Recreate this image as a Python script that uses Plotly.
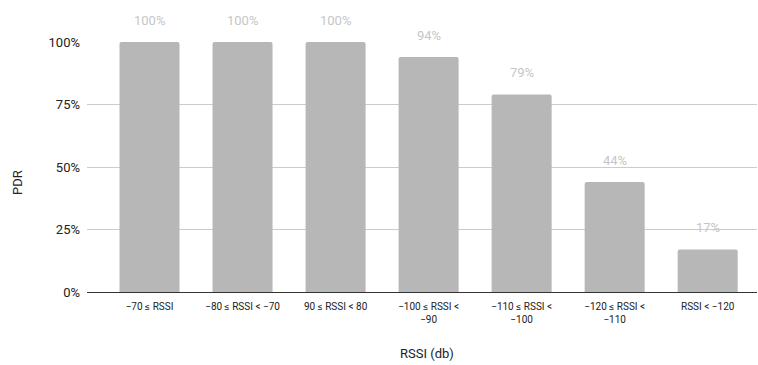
import plotly.graph_objects as go

categories = ["−70 ≤ RSSI", "−80 ≤ RSSI < −70", "90 ≤ RSSI < 80", "−100 ≤ RSSI <<br>−90",
              "−110 ≤ RSSI <<br>−100", "−120 ≤ RSSI <<br>−110", "RSSI < −120"]
pdr = [1.00, 1.00, 1.00, 0.94, 0.79, 0.44, 0.17]
value_labels = ["100%", "100%", "100%", "94%", "79%", "44%", "17%"]
y_ticks = [0, 0.25, 0.5, 0.75, 1.0]
y_tick_labels = ["0%", "25%", "50%", "75%", "100%"]

# plot area in pixels (left, right, top, bottom)
PX_L, PX_R, PX_T, PX_B = 87, 757, 42, 292
W, H = 758, 365


def paper_x(px):
    return (px - PX_L) / (PX_R - PX_L)


def paper_y(py):
    return (PX_B - py) / (PX_B - PX_T)


idx = list(range(len(categories)))

fig = go.Figure()
fig.add_trace(go.Bar(
    x=idx, y=pdr, width=0.645,
    marker=dict(color="#b7b7b7", line=dict(width=0)),
    hoverinfo="skip",
))

for i, v, t in zip(idx, pdr, value_labels):
    fig.add_annotation(x=i, y=v, text=t, showarrow=False, yanchor="middle", yshift=22,
                       font=dict(family="Roboto", size=13, color="#c6c6c6"))

# axis titles
fig.add_annotation(xref="paper", yref="paper", x=paper_x(427), y=paper_y(353),
                   text="RSSI (db)", showarrow=False, xanchor="center", yanchor="middle",
                   font=dict(family="Roboto", size=13, color="#222222"))
fig.add_annotation(xref="paper", yref="paper", x=paper_x(17), y=paper_y(183),
                   text="PDR", showarrow=False, textangle=-90, xanchor="center", yanchor="middle",
                   font=dict(family="Roboto", size=13, color="#222222"))

fig.update_layout(
    width=W, height=H,
    margin=dict(l=PX_L, r=W - PX_R, t=PX_T, b=H - PX_B),
    paper_bgcolor="white", plot_bgcolor="white",
    showlegend=False,
    barcornerradius=2,
    xaxis=dict(
        range=[-0.672, 6.53],
        tickmode="array", tickvals=idx, ticktext=categories,
        tickfont=dict(family="Roboto", size=10, color="#222222"),
        ticklabelstandoff=5,
        showgrid=False, showline=True, linecolor="#333333", linewidth=1,
        ticks="", zeroline=False,
    ),
    yaxis=dict(
        range=[0, 1.0],
        tickmode="array", tickvals=y_ticks, ticktext=y_tick_labels,
        tickfont=dict(family="Roboto", size=13, color="#222222"),
        ticklabelstandoff=6,
        showgrid=True, gridcolor="#cccccc", gridwidth=1,
        zeroline=False, showline=False, ticks="", ticklen=0,
    ),
)

fig.write_html("out.html")
